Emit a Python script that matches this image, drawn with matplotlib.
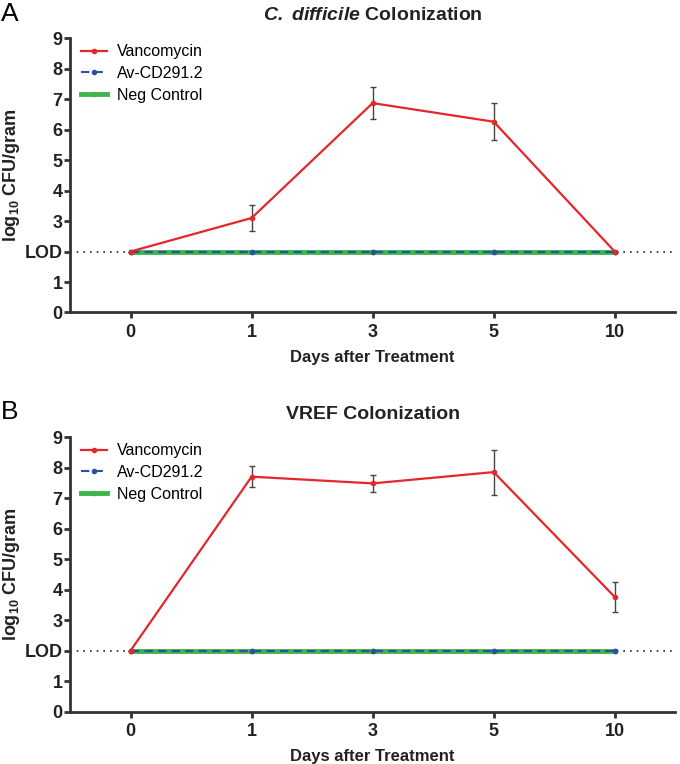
import matplotlib
matplotlib.use("Agg")
import matplotlib.pyplot as plt

plt.rcParams['font.family'] = ['Liberation Sans', 'DejaVu Sans']
plt.rcParams['mathtext.fontset'] = 'custom'
plt.rcParams['mathtext.rm'] = 'Liberation Sans'
plt.rcParams['mathtext.bf'] = 'Liberation Sans:bold'
plt.rcParams['mathtext.it'] = 'Liberation Sans:italic'
plt.rcParams['mathtext.bfit'] = 'Liberation Sans:italic:bold'

days = ['0', '1', '3', '5', '10']
lod = 2

# panel A: C. difficile
vanco_a = [2, 3.1, 6.87, 6.26, 2]
vanco_a_err = [0, 0.42, 0.52, 0.6, 0]
av_a = [2, 2, 2, 2, 2]
neg_a = [2, 2, 2, 2, 2]

# panel B: VREF
vanco_b = [2, 7.70, 7.48, 7.85, 3.76]
vanco_b_err = [0, 0.34, 0.27, 0.74, 0.48]
av_b = [2, 2, 2, 2, 2]
neg_b = [2, 2, 2, 2, 2]

fig = plt.figure(figsize=(6.8, 7.64), dpi=100)
ax_a = fig.add_axes([0.103, 0.591, 0.890, 0.359])
ax_b = fig.add_axes([0.103, 0.0685, 0.890, 0.3595])

red = '#e5262b'
blue = '#2e4fa3'
green = '#3cb54a'
spine_col = '#333333'


def draw(ax, vanco, err, av, neg, title):
    x = list(range(len(days)))
    ax.axhline(lod, color='#222222', linestyle=(0, (1, 3)), linewidth=1.2, zorder=1)
    ax.plot(x, neg, color=green, linewidth=3.5, marker='o', markersize=3, label='Neg Control', zorder=2)
    ax.plot(x, av, color=blue, linewidth=1.5, linestyle=(0, (4, 2.5)), marker='o', markersize=3,
            label='Av-CD291.2', zorder=3)
    ax.errorbar(x, vanco, yerr=err, fmt='none', ecolor='#444444', elinewidth=1,
                capsize=2.5, capthick=1, zorder=4)
    ax.plot(x, vanco, color=red, linewidth=1.6, marker='o', markersize=3, label='Vancomycin', zorder=5)

    ax.set_xlim(-0.5, 4.5)
    ax.set_ylim(0, 9)
    ax.set_xticks(x)
    ax.set_xticklabels(days)
    ax.set_yticks(range(10))
    ax.set_yticklabels(['0', '1', 'LOD', '3', '4', '5', '6', '7', '8', '9'])
    for lab in ax.get_xticklabels() + ax.get_yticklabels():
        lab.set_fontweight('bold')
        lab.set_fontsize(13)
        lab.set_color('#222222')
    ax.tick_params(direction='out', length=4, width=2, color=spine_col, pad=1.5)
    ax.tick_params(axis='x', pad=4)
    for s in ['top', 'right']:
        ax.spines[s].set_visible(False)
    for s in ['left', 'bottom']:
        ax.spines[s].set_linewidth(2)
        ax.spines[s].set_color(spine_col)
    ax.set_xlabel('Days after Treatment', fontsize=12, fontweight='bold', color='#222222', labelpad=7)
    ax.set_ylabel(r'$\mathbf{log_{10}}$ CFU/gram', fontsize=13, fontweight='bold', color='#222222', labelpad=2)
    ax.set_title(title, fontsize=14, fontweight='bold', color='#222222', pad=13)

    h, l = ax.get_legend_handles_labels()
    order = [l.index('Vancomycin'), l.index('Av-CD291.2'), l.index('Neg Control')]
    ax.legend([h[i] for i in order], [l[i] for i in order], loc='upper left', bbox_to_anchor=(-0.005, 1.03),
              frameon=False, fontsize=11.5, handlelength=1.6, handletextpad=0.6, labelspacing=0.42)


draw(ax_a, vanco_a, vanco_a_err, av_a, neg_a, r'$\mathbfit{C.}$ $\mathbfit{difficile}$ Colonization')
draw(ax_b, vanco_b, vanco_b_err, av_b, neg_b, 'VREF Colonization')

fig.text(0.002, 0.997, 'A', fontsize=19, va='top', ha='left')
fig.text(0.002, 0.477, 'B', fontsize=19, va='top', ha='left')

fig.savefig('out.png', dpi=100)
